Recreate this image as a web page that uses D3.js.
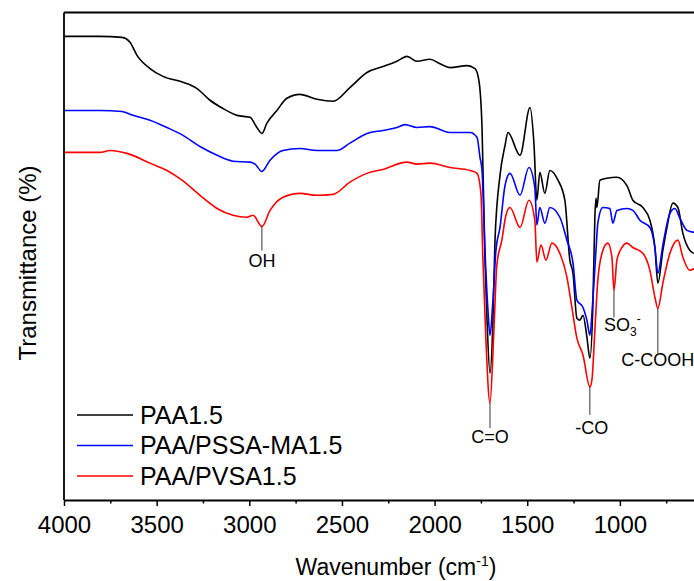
<!DOCTYPE html>
<html>
<head>
<meta charset="utf-8">
<script src="https://cdn.jsdelivr.net/npm/d3@7"></script>
<style>
  body { margin: 0; background: #fff; }
  text { font-family: "Liberation Sans", Arial, sans-serif; fill: #000; }
</style>
</head>
<body>
<script>
// FTIR spectra, [wavenumber cm-1, transmittance (a.u. %)]
var paa = [
  [4000,95.1],[3806,95.1],[3687,94.9],[3644,93.9],[3606,91.2],[3536,88.5],[3466,86.9],
  [3358,85.7],[3282,84.4],[3212,82.0],[3142,80.3],[3066,78.9],[2996,78.5],[2959,76.4],
  [2932,75.2],[2905,77.3],[2851,79.9],[2797,82.4],[2727,83.2],[2635,82.2],[2548,81.8],
  [2457,84.6],[2365,87.7],[2279,88.9],[2203,90.0],[2149,91.0],[2095,90.0],[2025,90.4],
  [1971,89.5],[1917,88.7],[1825,89.1],[1782,88.5],[1761,86.1],[1744,76.4],[1728,49.2],
  [1717,36.9],[1701,26.0],[1685,36.9],[1674,53.3],[1647,66.6],[1620,72.7],[1604,75.4],
  [1539,70.7],[1485,80.5],[1464,73.2],[1448,61.5],[1432,67.2],[1405,62.9],[1378,67.6],
  [1334,65.6],[1297,61.5],[1270,49.2],[1253,46.5],[1232,37.3],[1216,36.9],[1199,37.9],
  [1178,33.4],[1162,29.1],[1146,39.5],[1135,58.0],[1129,61.9],[1124,60.0],[1108,65.6],
  [1070,66.0],[1016,66.2],[962,64.5],[930,61.5],[876,60.0],[838,57.4],[811,51.8],
  [795,44.5],[768,51.2],[746,55.9],[714,60.9],[687,60.0],[660,54.7],[622,51.2],[600,50.6]
];
var pssa = [
  [4000,79.9],[3806,79.9],[3687,79.7],[3628,78.9],[3536,77.9],[3444,76.4],[3358,74.8],
  [3266,72.5],[3174,70.7],[3088,69.5],[2996,69.3],[2969,68.9],[2932,67.4],[2888,69.7],
  [2818,71.7],[2727,72.1],[2635,71.7],[2527,71.7],[2457,73.2],[2365,75.2],[2279,75.8],
  [2203,76.4],[2160,77.0],[2095,76.4],[2025,76.6],[1917,75.4],[1809,75.4],[1771,74.4],
  [1755,70.3],[1744,67.6],[1728,51.2],[1712,38.9],[1701,33.8],[1685,41.0],[1669,51.2],
  [1647,55.9],[1620,64.5],[1593,67.0],[1539,62.5],[1491,68.2],[1459,64.1],[1448,56.4],
  [1432,60.0],[1405,56.8],[1378,60.0],[1324,58.0],[1286,53.3],[1253,48.6],[1232,41.0],
  [1199,39.5],[1178,36.9],[1162,33.8],[1146,41.0],[1129,51.2],[1119,56.8],[1092,60.0],
  [1054,59.8],[1038,56.8],[1016,59.4],[962,59.8],[930,59.4],[892,57.4],[838,55.9],
  [811,51.8],[795,46.5],[768,52.3],[730,58.8],[703,59.8],[676,57.8],[638,55.3],[600,54.9]
];
var pvsa = [
  [4000,71.3],[3806,71.3],[3752,71.7],[3660,71.1],[3536,69.1],[3444,67.6],[3363,65.6],
  [3266,62.5],[3174,59.8],[3088,58.4],[3013,58.0],[2980,58.4],[2932,56.1],[2888,59.4],
  [2818,62.1],[2727,62.9],[2635,62.5],[2548,62.7],[2457,65.2],[2365,67.0],[2279,67.8],
  [2149,69.3],[2095,68.9],[2025,69.1],[1917,68.2],[1809,67.6],[1771,67.0],[1750,62.9],
  [1739,49.2],[1723,32.8],[1701,19.9],[1680,34.8],[1664,48.2],[1637,53.3],[1615,58.4],
  [1593,60.0],[1539,55.9],[1491,61.5],[1459,57.4],[1448,48.8],[1426,52.3],[1399,49.2],
  [1367,52.7],[1324,50.6],[1286,45.7],[1259,39.5],[1232,33.2],[1199,29.7],[1162,23.2],
  [1151,24.6],[1135,34.8],[1119,45.1],[1092,51.2],[1065,52.7],[1043,49.8],[1032,43.0],
  [1016,49.2],[989,51.8],[962,52.7],[930,51.8],[876,50.6],[838,47.1],[811,41.6],
  [795,39.3],[768,44.5],[730,50.6],[687,53.3],[660,49.8],[622,47.1],[600,47.5]
];

var seriesNames  = ["PAA1.5", "PAA/PSSA-MA1.5", "PAA/PVSA1.5"];
var seriesColors = ["#000000", "#0000ff", "#ff0000"];
var xTicks      = [4000, 3500, 3000, 2500, 2000, 1500, 1000];
var xMinorTicks = [3750, 3250, 2750, 2250, 1750, 1250, 750];

// band labels, pinned on the red curve
var bandLabels = ["OH", "C=O", "-CO", "SO3-", "C-COOH"];
var bandWn     = [2932, 1701, 1162, 1032, 795];

var svg_width = 694, svg_height = 581;
var mLeft = 64, mRight = 694, mTop = 12.5, mBottom = 500;

var svg = d3.select("body").append("svg")
    .attr("width", svg_width)
    .attr("height", svg_height);

var x = d3.scaleLinear().domain([4000, 600]).range([mLeft, mRight]);
var y = d3.scaleLinear().domain([0, 100]).range([mBottom, mTop]);

var line = d3.line()
    .x(d => x(d[0]))
    .y(d => y(d[1]))
    .curve(d3.curveMonotoneX);

var all = [paa, pssa, pvsa];

svg.append("g").selectAll("path")
  .data(all)
  .enter().append("path")
    .attr("d", line)
    .attr("fill", "none")
    .attr("stroke", (d, i) => seriesColors[i])
    .attr("stroke-width", 1.6)
    .attr("stroke-linejoin", "round");

// frame: left and top
svg.append("line")
    .attr("x1", mLeft).attr("x2", mLeft)
    .attr("y1", mTop).attr("y2", mBottom)
    .attr("stroke", "#000").attr("stroke-width", 1.8);
svg.append("line")
    .attr("x1", mLeft).attr("x2", svg_width)
    .attr("y1", mTop).attr("y2", mTop)
    .attr("stroke", "#000").attr("stroke-width", 1.8);

// bottom axis
var xAxis = svg.append("g")
    .attr("transform", "translate(0," + mBottom + ")")
    .call(d3.axisBottom(x).tickValues(xTicks).tickFormat(d3.format("d"))
      .tickSize(6).tickSizeOuter(0).tickPadding(10));
xAxis.select(".domain").attr("stroke-width", 1.8);
xAxis.selectAll(".tick line").attr("stroke-width", 1.5);
xAxis.selectAll("text")
    .style("font-family", '"Liberation Sans", Arial, sans-serif')
    .style("font-size", "24px");

var xMinor = svg.append("g")
    .attr("transform", "translate(0," + mBottom + ")")
    .call(d3.axisBottom(x).tickValues(xMinorTicks).tickSize(3.5).tickSizeOuter(0).tickFormat(""));
xMinor.select(".domain").remove();
xMinor.selectAll(".tick line").attr("stroke-width", 1.5);

// axis titles
var xt = svg.append("text")
    .attr("x", 396).attr("y", 575)
    .attr("text-anchor", "middle")
    .style("font-size", "23px");
xt.append("tspan").text("Wavenumber (cm");
xt.append("tspan").attr("dy", -9).style("font-size", "14px").text("-1");
xt.append("tspan").attr("dy", 9).text(")");

svg.append("text")
    .attr("transform", "translate(36,263) rotate(-90)")
    .attr("text-anchor", "middle")
    .style("font-size", "24px")
    .text("Transmittance (%)");

// band annotations: [line length, gap to baseline, x shift, anchor]
var annOffsets = [[24, 16, 0, "middle"], [25, 15, 0, "middle"], [28, 19, 2, "middle"],
                  [27, 14, -10, "start"], [45, 13, 0, "middle"]];
bandLabels.forEach(function(lab, i) {
  var pt = pvsa.find(p => p[0] === bandWn[i]);
  var px = x(pt[0]), py = y(pt[1]);
  var o = annOffsets[i];
  svg.append("line")
      .attr("x1", px).attr("x2", px)
      .attr("y1", py).attr("y2", py + o[0])
      .attr("stroke", "#000").attr("stroke-width", 0.8);
  var t = svg.append("text")
      .attr("x", px + o[2]).attr("y", py + o[0] + o[1])
      .attr("text-anchor", o[3])
      .style("font-size", "18px");
  if (lab === "SO3-") {
    t.append("tspan").text("SO");
    t.append("tspan").attr("dy", 5).style("font-size", "12px").text("3");
    t.append("tspan").attr("dy", -13).style("font-size", "12px").text("-");
  } else {
    t.text(lab);
  }
});

// legend
var legend = svg.append("g").selectAll("g")
  .data(seriesNames)
  .enter().append("g")
    .attr("transform", (d, i) => "translate(77," + (415 + i * 30.5) + ")");
legend.append("line")
    .attr("x1", 0).attr("x2", 56)
    .attr("stroke", (d, i) => seriesColors[i])
    .attr("stroke-width", 1.6);
legend.append("text")
    .attr("x", 63).attr("y", 8.5)
    .style("font-size", "25px")
    .text(d => d);
</script>
</body>
</html>
